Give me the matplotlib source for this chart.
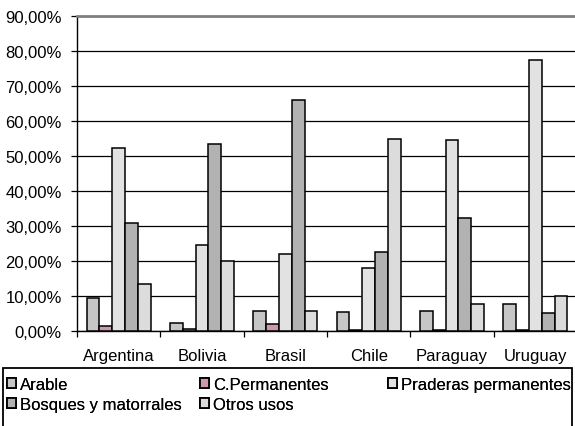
import matplotlib
matplotlib.use("Agg")
import matplotlib.pyplot as plt
from matplotlib.patches import Patch, Rectangle
from matplotlib.ticker import FixedLocator, FuncFormatter
import numpy as np

plt.rcParams['font.family'] = ['Liberation Sans', 'DejaVu Sans']

# Land use share by country (percent of total area)
countries = ["Argentina", "Bolivia", "Brasil", "Chile", "Paraguay", "Uruguay"]
series_names = ["Arable", "C.Permanentes", "Praderas permanentes",
                "Bosques y matorrales", "Otros usos"]
arable = [9.3, 2.4, 5.8, 5.3, 5.8, 7.6]
perm_crops = [1.4, 0.6, 2.0, 0.4, 0.3, 0.3]
pastures = [52.2, 24.7, 21.9, 17.9, 54.5, 77.3]
forests = [31.0, 53.3, 66.0, 22.5, 32.2, 5.2]
other = [13.3, 20.1, 5.8, 55.0, 7.6, 9.9]
y_ticks = [0, 10, 20, 30, 40, 50, 60, 70, 80, 90]

series = [arable, perm_crops, pastures, forests, other]
colors = ["#C6C6C6", "#CC99B0", "#E2E2E2", "#B2B2B2", "#DCDCDC"]

W, H = 575, 427
fig = plt.figure(figsize=(W / 100, H / 100), dpi=100)
ax = fig.add_axes([77 / W, (H - 332) / H, 500 / W, 315 / H])

n = len(series)
bw = 1 / (n + 1.5)
x = np.arange(len(countries))
for i, (vals, col) in enumerate(zip(series, colors)):
    ax.bar(x + (i - (n - 1) / 2) * bw, vals, width=bw, color=col,
           edgecolor="black", linewidth=1.1, zorder=3)

ax.set_xlim(-0.5, len(countries) - 0.5)
ax.set_ylim(0, 90)

ax.yaxis.set_major_locator(FixedLocator(y_ticks))
ax.yaxis.set_major_formatter(FuncFormatter(lambda v, p: f"{v:.2f}%".replace(".", ",")))
ax.yaxis.grid(True, color="black", linewidth=0.9, zorder=1)
ax.tick_params(axis="y", length=4, width=0.9, pad=7, labelsize=12)

ax.set_xticks(x)
ax.set_xticklabels(countries)
ax.set_xticks(np.arange(len(countries) + 1) - 0.5, minor=True)
ax.tick_params(axis="x", which="major", length=0, pad=12, labelsize=12)
ax.tick_params(axis="x", which="minor", length=4, width=0.9, direction="out")

for side in ("left", "bottom"):
    ax.spines[side].set_color("black")
    ax.spines[side].set_linewidth(1.0)
ax.spines["top"].set_color("#808080")
ax.spines["top"].set_linewidth(2.0)
ax.spines["right"].set_color("#808080")
ax.spines["right"].set_linewidth(2.0)

# Legend frame
fig.add_artist(Rectangle((3 / W, -0.05), 569 / W, (H - 369) / H + 0.05,
                         transform=fig.transFigure, facecolor="none",
                         edgecolor="black", linewidth=1.3))

handles = [Patch(facecolor=c, edgecolor="black", linewidth=1.3) for c in colors]
columns = [[0, 3], [1, 4], [2]]
col_x = [5, 198, 386]
for cx, idx in zip(col_x, columns):
    leg = fig.legend([handles[k] for k in idx], [series_names[k] for k in idx],
                     loc="upper left", bbox_to_anchor=(cx / W, (H - 376) / H),
                     frameon=False, fontsize=12, handlelength=0.55,
                     handleheight=0.55, handletextpad=0.25, labelspacing=0.3,
                     borderpad=0.1, borderaxespad=0)
    fig.add_artist(leg)

fig.savefig("out.png", dpi=100)
